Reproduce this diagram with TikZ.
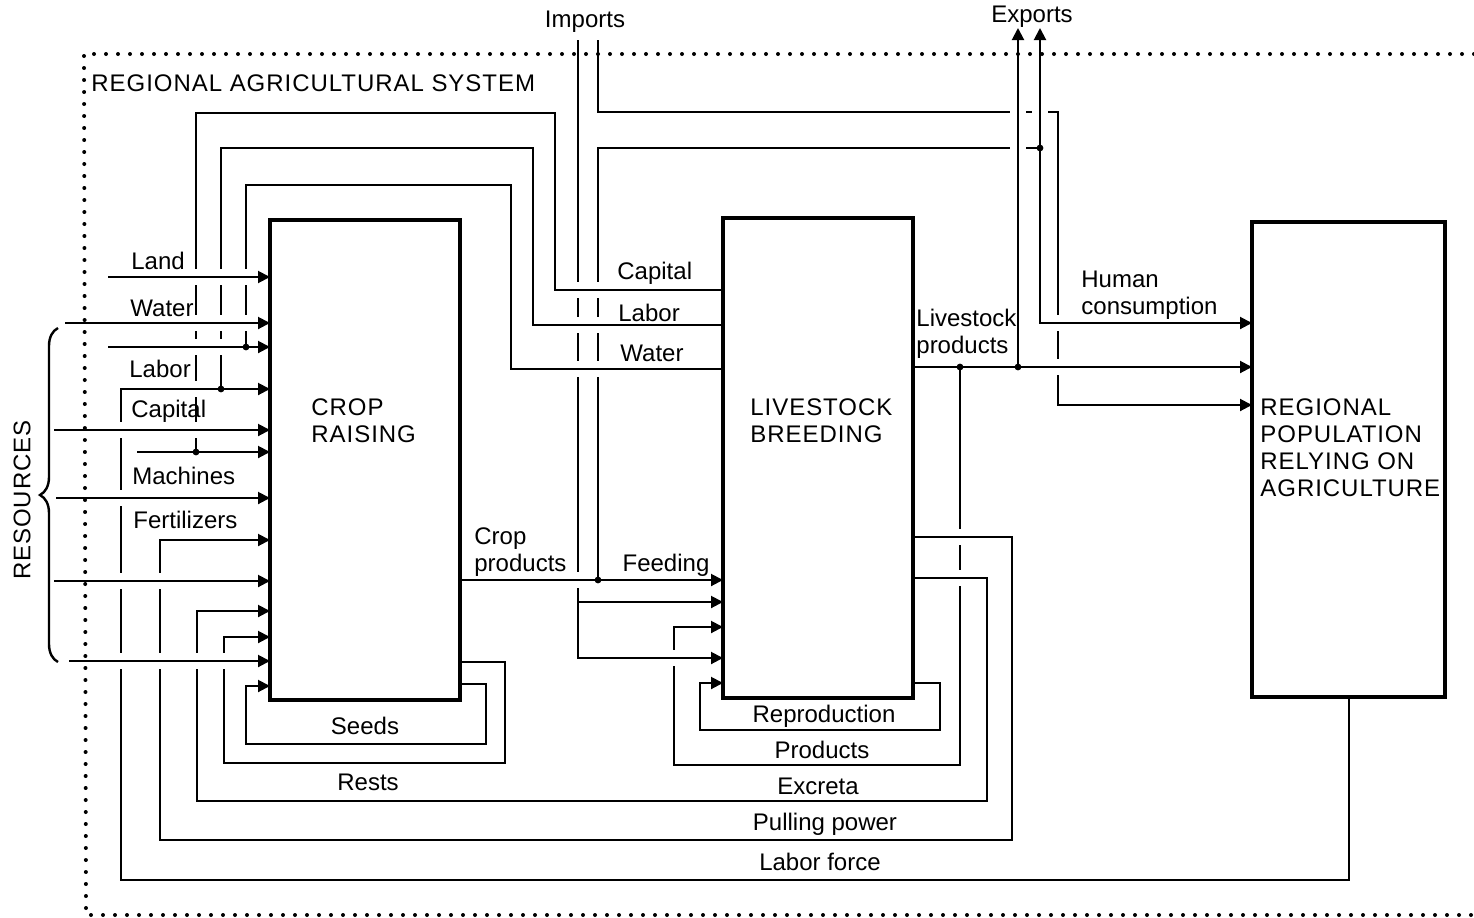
\documentclass[tikz,border=0pt]{standalone}
\usepackage{fontspec}
\setmainfont{Liberation Sans}
\usetikzlibrary{arrows.meta,decorations.pathreplacing}

\begin{document}
\begin{tikzpicture}[
        x=0.5pt, y=-0.5pt,
        font=\fontsize{12}{13.5}\selectfont,
        box/.style={
            rectangle, draw=black, line width=2.2pt, outer sep=0pt,
            inner sep=0pt, anchor=north west
        },
        lbl/.style={inner sep=0pt, align=left, text=black},
        caps/.style={lbl, font=\fontsize{12}{13.5}\selectfont\addfontfeature{LetterSpace=4}},
        wire/.style={line width=1pt, draw=black},
        arr/.style={wire, -{Triangle[length=6pt,width=6pt]}},
        sysframe/.style={line width=2pt, dash pattern=on 0pt off 6pt, line cap=round}
    ]
    \useasboundingbox (0,0) rectangle (1474,917);

    % System boundary
    \draw[sysframe] (1474,54) -- (84,54) -- (86,915) -- (1474,915);
    \node[caps, anchor=west] (title) at (91,83) {REGIONAL AGRICULTURAL SYSTEM};

    % Boxes
    \node[box, minimum width=95pt, minimum height=240pt] (crop) at (270,220) {};
    \node[box, minimum width=95pt, minimum height=240pt] (live) at (723,218) {};
    \node[box, minimum width=96.5pt, minimum height=237.5pt] (pop) at (1252,222) {};

    \node[caps, anchor=west] (cropname) at (311,421) {CROP\\RAISING};
    \node[caps, anchor=west] (livename) at (750,421) {LIVESTOCK\\BREEDING};
    \node[caps, anchor=west] (popname) at (1260,448) {REGIONAL\\POPULATION\\RELYING ON\\AGRICULTURE};

    % Free ends and junctions
    \coordinate (land) at (108,277);
    \coordinate (r1) at (65,323);
    \coordinate (w2) at (108,347);
    \coordinate (r2) at (54,430);
    \coordinate (mach) at (137,452);
    \coordinate (r3) at (56,498);
    \coordinate (r4) at (54,581);
    \coordinate (r5) at (69,661);
    \coordinate (imp1) at (578,40);
    \coordinate (imp2) at (598,40);
    \coordinate (exp1) at (1018,28);
    \coordinate (exp2) at (1040,28);
    \coordinate (j1) at (196,452);
    \coordinate (j2) at (221,389);
    \coordinate (j3) at (246,347);
    \coordinate (j4) at (598,580);
    \coordinate (j5) at (1040,148);
    \coordinate (j6) at (960,367);
    \coordinate (j7) at (1018,367);
    \coordinate (j8) at (578,602);

    % Resources
    \draw[line width=1.2pt, decorate, decoration={brace, amplitude=9pt}] (58,662) -- (58,328);
    \node[caps, rotate=90] (resources) at (22,500) {RESOURCES};

    % Inputs to crop raising
    \draw[arr] (land) -- (crop.west |- land);
    \draw[arr] (r1) -- (crop.west |- r1);
    \draw[arr] (w2) -- (crop.west |- w2);
    \draw[arr] (r2) -- (crop.west |- r2);
    \draw[arr] (mach) -- (crop.west |- mach);
    \draw[arr] (r3) -- (crop.west |- r3);
    \draw[arr] (r4) -- (crop.west |- r4);
    \draw[arr] (r5) -- (crop.west |- r5);

    \node[lbl, anchor=west] (lland) at (131,261) {Land};
    \node[lbl, anchor=west] (lwater) at (130,308) {Water};
    \node[lbl, anchor=west] (llabor) at (129,369) {Labor};
    \node[lbl, anchor=west] (lcapital) at (131,411) {Capital};
    \node[lbl, anchor=west] (lmach) at (132,476) {Machines};
    \node[lbl, anchor=west] (lfert) at (133,520) {Fertilizers};

    % Crop side to livestock
    \draw[wire] (j1) -- (196,113) -- (555,113) -- (555,290) -- (live.west |- 0,290);
    \draw[wire] (j2) -- (221,148) -- (533,148) -- (533,325) -- (live.west |- 0,325);
    \draw[wire] (j3) -- (246,185) -- (511,185) -- (511,369) -- (live.west |- 0,369);
    \node[lbl, anchor=west] (lcap2) at (617,273) {Capital};
    \node[lbl, anchor=west] (llab2) at (618,313) {Labor};
    \node[lbl, anchor=west] (lwat2) at (620,353) {Water};

    % Crop products and imports
    \draw[arr] (crop.east |- j4) -- (live.west |- j4);
    \draw[wire] (j4) -- (598,148) -- (j5);
    \draw[arr] (imp1) |- (live.west |- 0,658);
    \draw[arr] (j8) -- (live.west |- j8);
    \draw[arr] (imp2) -- (598,112) -- (1058,112) |- (pop.west |- 0,405);
    \node[lbl] (imports) at (585,22) {Imports};
    \node[lbl, anchor=west] (lcrop) at (474,552) {Crop\\products};
    \node[lbl] (lfeed) at (666,565) {Feeding};

    % Livestock products, exports, consumption
    \draw[arr] (live.east |- j6) -- (pop.west |- j6);
    \draw[arr] (j7) -- (exp1);
    \draw[arr] (j5) -- (exp2);
    \draw[arr] (j5) |- (pop.west |- 0,323);
    \node[lbl] (exports) at (1032,17) {Exports};
    \node[lbl, anchor=west] (llive) at (916,334) {Livestock\\products};
    \node[lbl, anchor=west] (lhuman) at (1081,295) {Human\\consumption};

    % Feedback loops
    \draw[arr] (crop.east |- 0,684) -- (486,684) -- (486,744) -- (246,744) |- (crop.west |- 0,686);
    \draw[arr] (crop.east |- 0,662) -- (505,662) -- (505,763) -- (224,763) |- (crop.west |- 0,637);
    \draw[arr] (live.east |- 0,683) -- (940,683) -- (940,730) -- (700,730) |- (live.west |- 0,683);
    \draw[arr] (j6) -- (960,765) -- (674,765) |- (live.west |- 0,627);
    \draw[arr] (live.east |- 0,578) -- (987,578) -- (987,801) -- (197,801) |- (crop.west |- 0,611);
    \draw[arr] (live.east |- 0,537) -- (1012,537) -- (1012,840) -- (160,840) |- (crop.west |- 0,540);
    \draw[arr] (pop.south) |- (121,880) |- (crop.west |- j2);

    \node[lbl] (lseeds) at (365,726) {Seeds};
    \node[lbl] (lrests) at (368,782) {Rests};
    \node[lbl] (lrepro) at (824,716) {Reproduction};
    \node[lbl] (lprod) at (822,750) {Products};
    \node[lbl] (lexcr) at (818,786) {Excreta};
    \node[lbl] (lpull) at (825,824) {Pulling power};
    \node[lbl] (lforce) at (820,862) {Labor force};

    % Crossings: the vertical line is broken
    \foreach \x/\y in {121/430,121/498,121/581,121/661,160/581,160/661,197/661,224/661,
        196/277,196/323,196/347,196/389,196/430,221/277,221/323,221/347,246/277,246/323,
        578/290,578/325,578/369,578/580,598/290,598/325,598/369,
        1058/323,1058/367,960/537,960/578,674/658} {
        \fill[white] (\x-4,\y-8) rectangle (\x+4,\y+8);
        \draw[wire] (\x-6,\y) -- (\x+6,\y);
    }
    % Crossings: the horizontal line is broken
    \foreach \x/\y in {1018/148,1018/112,1040/112} {
        \fill[white] (\x-8,\y-4) rectangle (\x+8,\y+4);
        \draw[wire] (\x,\y-6) -- (\x,\y+6);
    }

    % Junction dots
    \foreach \j in {j1,j2,j3,j4,j5,j6,j7}
        \fill (\j) circle[radius=1.7pt];
    \end{tikzpicture}
\end{document}
